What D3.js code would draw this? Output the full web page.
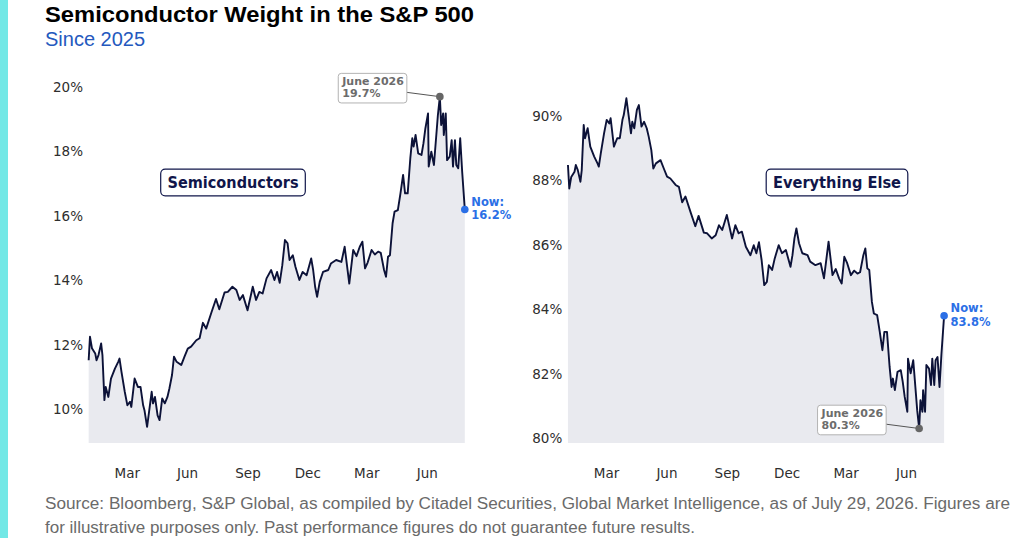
<!DOCTYPE html>
<html>
<head>
<meta charset="utf-8">
<script src="https://cdn.jsdelivr.net/npm/d3@7"></script>
<style>
  html, body { margin: 0; padding: 0; background: #fff; }
  svg { display: block; }
</style>
</head>
<body>
<div id="chart"></div>
<script>
// Values (roughly every 3-5 trading days)
const dates = [
  "2025-01-02","2025-01-04","2025-01-07","2025-01-12","2025-01-14","2025-01-17","2025-01-21","2025-01-23","2025-01-26","2025-01-28",
  "2025-02-01","2025-02-05","2025-02-11","2025-02-16","2025-02-18","2025-02-21","2025-02-26","2025-03-02","2025-03-06","2025-03-08",
  "2025-03-13","2025-03-18","2025-03-22","2025-03-26","2025-03-28","2025-04-01","2025-04-08","2025-04-10","2025-04-13","2025-04-17",
  "2025-04-20","2025-04-24","2025-04-28","2025-05-02","2025-05-05","2025-05-09","2025-05-12","2025-05-16","2025-05-23","2025-05-28",
  "2025-06-02","2025-06-07","2025-06-15","2025-06-20","2025-06-25","2025-06-30","2025-07-08","2025-07-15","2025-07-20","2025-07-28",
  "2025-08-02","2025-08-09","2025-08-15","2025-08-20","2025-08-25","2025-09-01","2025-09-09","2025-09-14","2025-09-19","2025-09-24",
  "2025-09-30","2025-10-07","2025-10-12","2025-10-16","2025-10-20","2025-10-24","2025-10-28","2025-11-01","2025-11-04","2025-11-09",
  "2025-11-13","2025-11-19","2025-11-24","2025-11-30","2025-12-07","2025-12-10","2025-12-13","2025-12-16","2025-12-20","2025-12-25",
  "2026-01-02","2026-01-06","2026-01-14","2026-01-22","2026-01-27","2026-02-03","2026-02-09","2026-02-14","2026-02-19","2026-02-23",
  "2026-02-27","2026-03-03","2026-03-09","2026-03-14","2026-03-19","2026-03-23","2026-03-28","2026-03-31","2026-04-03","2026-04-06",
  "2026-04-10","2026-04-13","2026-04-18","2026-04-22","2026-04-26","2026-04-29","2026-05-03","2026-05-07","2026-05-10","2026-05-12",
  "2026-05-15","2026-05-19","2026-05-24","2026-05-27","2026-05-30","2026-06-03","2026-06-04","2026-06-08","2026-06-12","2026-06-16",
  "2026-06-18","2026-06-21","2026-06-23","2026-06-26","2026-06-27","2026-06-30","2026-07-02","2026-07-06","2026-07-09","2026-07-11",
  "2026-07-14","2026-07-16","2026-07-19","2026-07-22","2026-07-25","2026-07-29"
];

const semisWeight = [
  11.52, 12.25, 11.89, 11.73, 11.52, 11.68, 12.04, 11.68, 10.28, 10.69,
  10.38, 10.95, 11.26, 11.47, 11.57, 11.16, 10.54, 10.12, 10.23, 10.07,
  10.95, 10.69, 10.69, 10.12, 9.97, 9.45, 10.54, 10.18, 10.38, 9.81,
  9.66, 10.33, 10.18, 10.38, 10.64, 11.06, 11.63, 11.47, 11.37, 11.63,
  11.88, 11.94, 12.14, 12.20, 12.68, 12.50, 13.00, 13.42, 13.10, 13.62,
  13.64, 13.80, 13.70, 13.39, 13.54, 13.07, 13.80, 13.39, 13.64, 13.59,
  14.06, 14.32, 14.01, 14.26, 13.92, 14.47, 15.25, 15.15, 14.63, 14.78,
  14.42, 14.01, 14.26, 14.16, 14.68, 14.32, 13.80, 13.49, 13.95, 14.26,
  14.32, 14.52, 14.63, 14.57, 15.04, 13.90, 14.94, 14.75, 15.04, 15.20,
  14.37, 14.55, 14.94, 14.80, 14.89, 14.85, 14.32, 14.11, 14.73, 14.78,
  15.77, 16.13, 16.18, 16.70, 17.27, 16.70, 16.70, 17.79, 18.41, 18.15,
  18.51, 17.94, 17.89, 18.25, 18.72, 19.18, 17.53, 17.99, 17.58, 18.61,
  19.13, 19.70, 18.82, 19.18, 18.51, 19.18, 17.73, 17.84, 18.35, 17.53,
  18.35, 17.58, 17.48, 18.41, 17.37, 16.20
];

const otherWeight = [
  88.48, 87.75, 88.11, 88.27, 88.48, 88.32, 87.96, 88.32, 89.72, 89.31,
  89.62, 89.05, 88.74, 88.53, 88.43, 88.84, 89.46, 89.88, 89.77, 89.93,
  89.05, 89.31, 89.31, 89.88, 90.03, 90.55, 89.46, 89.82, 89.62, 90.19,
  90.34, 89.67, 89.82, 89.62, 89.36, 88.94, 88.37, 88.53, 88.63, 88.37,
  88.12, 88.06, 87.86, 87.80, 87.32, 87.50, 87.00, 86.58, 86.90, 86.38,
  86.36, 86.20, 86.30, 86.61, 86.46, 86.93, 86.20, 86.61, 86.36, 86.41,
  85.94, 85.68, 85.99, 85.74, 86.08, 85.53, 84.75, 84.85, 85.37, 85.22,
  85.58, 85.99, 85.74, 85.84, 85.32, 85.68, 86.20, 86.51, 86.05, 85.74,
  85.68, 85.48, 85.37, 85.43, 84.96, 86.10, 85.06, 85.25, 84.96, 84.80,
  85.63, 85.45, 85.06, 85.20, 85.11, 85.15, 85.68, 85.89, 85.27, 85.22,
  84.23, 83.87, 83.82, 83.30, 82.73, 83.30, 83.30, 82.21, 81.59, 81.85,
  81.49, 82.06, 82.11, 81.75, 81.28, 80.82, 82.47, 82.01, 82.42, 81.39,
  80.87, 80.30, 81.18, 80.82, 81.49, 80.82, 82.27, 82.16, 81.65, 82.47,
  81.65, 82.42, 82.52, 81.59, 82.63, 83.80
];

const semisTicks = [10, 12, 14, 16, 18, 20];
const otherTicks = [80, 82, 84, 86, 88, 90];
const monthTicks = ["2025-03-01", "2025-06-01", "2025-09-01", "2025-12-01", "2026-03-01", "2026-06-01"];
const seriesNames = ["Semiconductors", "Everything Else"];

const titleText = "Semiconductor Weight in the S&P 500";
const subtitleText = "Since 2025";
const sourceLines = [
  "Source: Bloomberg, S&P Global, as compiled by Citadel Securities, Global Market Intelligence, as of July 29, 2026. Figures are",
  "for illustrative purposes only. Past performance figures do not guarantee future results."
];

const width = 1024, height = 538;
const parse = d3.timeParse("%Y-%m-%d");
const parsedDates = dates.map(parse);

const navy = "#10164a", lineColor = "#0c1238", fillColor = "#e9eaef";
const gray = "#6c6c6c", blue = "#2b6fe6";
const dv = "'DejaVu Sans', sans-serif";
const arial = "'Liberation Sans', Arial, sans-serif";

const svg = d3.select("#chart").append("svg")
  .attr("width", width)
  .attr("height", height);

svg.append("rect").attr("width", width).attr("height", height).attr("fill", "#fff");
// cyan accent strip on the left
svg.append("rect").attr("width", 8).attr("height", height).attr("fill", "#72e8e6");

// title + subtitle
svg.append("text")
  .attr("x", 45).attr("y", 21.7)
  .attr("font-family", arial).attr("font-weight", "bold").attr("font-size", 22)
  .attr("fill", "#000")
  .attr("textLength", 429).attr("lengthAdjust", "spacingAndGlyphs")
  .text(titleText);

svg.append("text")
  .attr("x", 45).attr("y", 45.7)
  .attr("font-family", arial).attr("font-size", 20)
  .attr("fill", "#2459be")
  .text(subtitleText);

// footer
const footLens = [965, 650];
sourceLines.forEach((line, i) => {
  svg.append("text")
    .attr("x", 45).attr("y", 509 + i * 23.5)
    .attr("font-family", arial).attr("font-size", 16)
    .attr("fill", "#6a6a6a")
    .attr("textLength", footLens[i]).attr("lengthAdjust", "spacingAndGlyphs")
    .text(line);
});

const panels = [
  { values: semisWeight, ticks: semisTicks, name: seriesNames[0], left: 88, right: 464.8,
    yDomain: [8.95, 20], yRange: [443, 87], labelX: 233, labelLen: 131, extreme: d3.maxIndex },
  { values: otherWeight, ticks: otherTicks, name: seriesNames[1], left: 567.3, right: 944.1,
    yDomain: [79.85, 90], yRange: [443, 116], labelX: 837, labelLen: 128, extreme: d3.minIndex }
];

const bottom = 443;

panels.forEach(p => {
  const data = parsedDates.map((d, i) => ({ date: d, v: p.values[i] }));

  const x = d3.scaleTime()
    .domain([parse("2025-01-01"), parse("2026-07-29")])
    .range([p.left, p.right]);
  const y = d3.scaleLinear().domain(p.yDomain).range(p.yRange);

  const g = svg.append("g");

  // area under the line
  g.append("path")
    .datum(data)
    .attr("fill", fillColor)
    .attr("d", d3.area().x(d => x(d.date)).y0(bottom).y1(d => y(d.v)));

  g.append("path")
    .datum(data)
    .attr("fill", "none")
    .attr("stroke", lineColor)
    .attr("stroke-width", 1.9)
    .attr("stroke-linejoin", "round")
    .attr("d", d3.line().x(d => x(d.date)).y(d => y(d.v)));

  // y axis
  const yAxis = g.append("g")
    .attr("transform", `translate(${p.left},0)`)
    .call(d3.axisLeft(y).tickValues(p.ticks).tickSize(0).tickPadding(5).tickFormat(d => d + "%"));
  yAxis.select(".domain").remove();
  yAxis.selectAll("text").attr("font-family", dv).attr("font-size", 13.5).attr("fill", "#2e2e2e");

  // x axis
  const xAxis = g.append("g")
    .attr("transform", `translate(0,${bottom})`)
    .call(d3.axisBottom(x).tickValues(monthTicks.map(parse)).tickSize(0).tickPadding(25)
      .tickFormat(d3.timeFormat("%b")));
  xAxis.select(".domain").remove();
  xAxis.selectAll("text").attr("font-family", dv).attr("font-size", 13.5).attr("fill", "#2e2e2e");

  // series name box
  const lab = g.append("g");
  lab.append("text")
    .attr("x", p.labelX).attr("y", 182.5)
    .attr("text-anchor", "middle").attr("dominant-baseline", "central")
    .attr("font-family", dv).attr("font-weight", "bold").attr("font-size", 15)
    .attr("fill", navy)
    .attr("textLength", p.labelLen).attr("lengthAdjust", "spacingAndGlyphs")
    .text(p.name);
  lab.insert("rect", "text")
    .attr("x", p.labelX - p.labelLen / 2 - 6.8).attr("y", 169.2)
    .attr("width", p.labelLen + 13.6).attr("height", 26.6)
    .attr("rx", 4.5)
    .attr("fill", "#fff").attr("stroke", navy).attr("stroke-width", 1.2);

  // peak / trough annotation
  const ei = p.extreme(data, d => d.v);
  const pk = data[ei];
  const px = x(pk.date), py = y(pk.v);
  const bw = 68.6, bh = 29.6;
  const bx = px - 33 - bw, by = py - 23.3;
  g.append("line")
    .attr("x1", bx + bw).attr("y1", py - 4.3)
    .attr("x2", px).attr("y2", py)
    .attr("stroke", "#555").attr("stroke-width", 1);
  g.append("rect")
    .attr("x", bx).attr("y", by).attr("width", bw).attr("height", bh)
    .attr("rx", 3)
    .attr("fill", "#fff").attr("stroke", "#b3b3b3").attr("stroke-width", 1);
  [d3.timeFormat("%B %Y")(pk.date), pk.v.toFixed(1) + "%"].forEach((t, i) => {
    g.append("text")
      .attr("x", bx + 4).attr("y", py - 15.3 + i * 12.3)
      .attr("dominant-baseline", "central")
      .attr("font-family", dv).attr("font-weight", "bold").attr("font-size", 11)
      .attr("fill", gray)
      .text(t);
  });
  g.append("circle").attr("cx", px).attr("cy", py).attr("r", 3.8).attr("fill", "#666");

  // latest value
  const last = data[data.length - 1];
  const lx = x(last.date), ly = y(last.v);
  g.append("circle").attr("cx", lx).attr("cy", ly).attr("r", 3.8).attr("fill", blue);
  ["Now:", last.v.toFixed(1) + "%"].forEach((t, i) => {
    g.append("text")
      .attr("x", lx + 6.5).attr("y", ly - 7.3 + i * 13.3)
      .attr("dominant-baseline", "central")
      .attr("font-family", dv).attr("font-weight", "bold").attr("font-size", 11.5)
      .attr("fill", blue)
      .text(t);
  });
});
</script>
</body>
</html>
